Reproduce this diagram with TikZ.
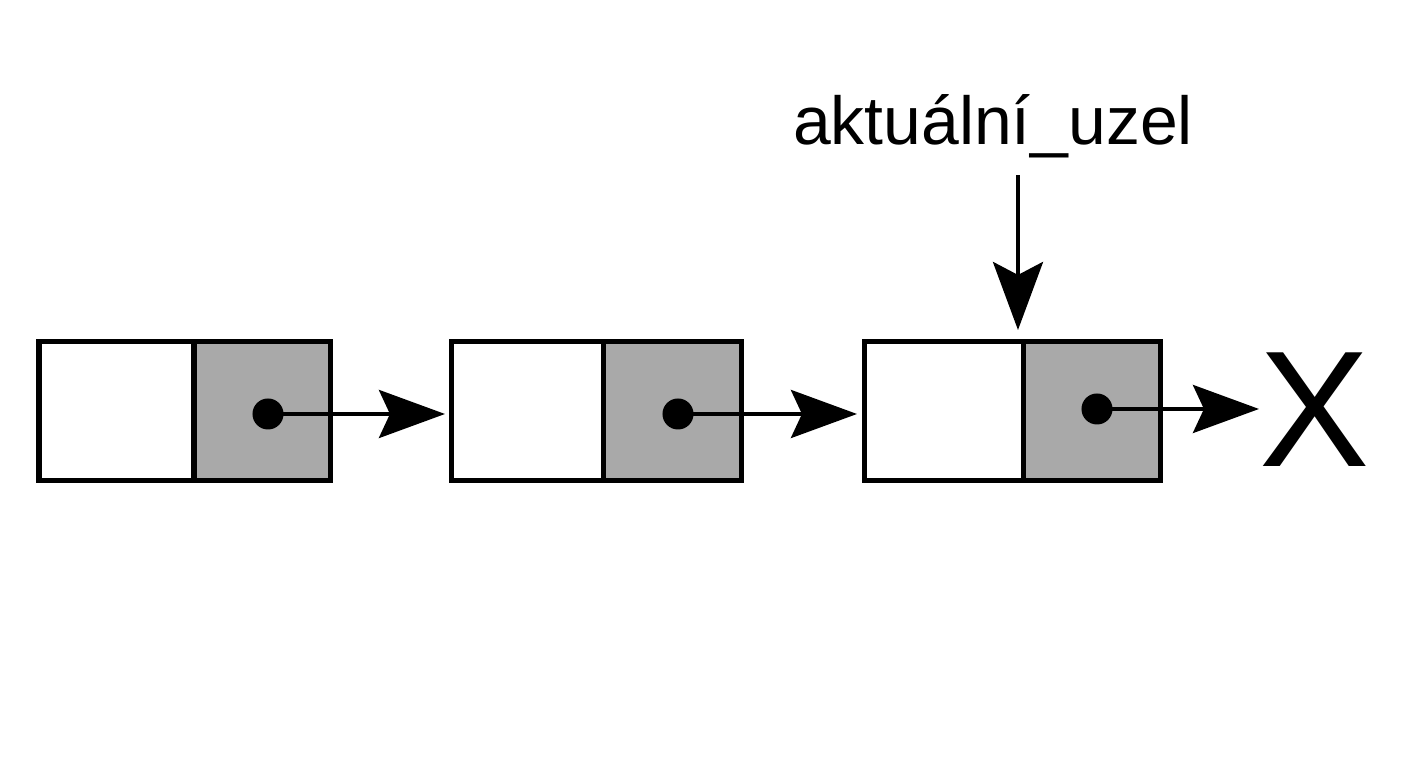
\documentclass[tikz,border=0pt]{standalone}
\usepackage{fontspec}
\setmainfont{Liberation Sans}
\usetikzlibrary{arrows.meta}
\definecolor{cellgray}{HTML}{A9A9A9}
\begin{document}
\begin{tikzpicture}[x=0.01cm,y=-0.01cm,
  cell/.style={draw, line width=0.05cm, inner sep=0, outer sep=0, minimum height=1.38cm, anchor=north west},
  datacell/.style={cell, fill=white},
  ptrcell/.style={cell, fill=cellgray},
  dot/.style={circle, fill=black, inner sep=0, outer sep=0, minimum size=0.31cm},
  link/.style={line width=0.04cm, -{Stealth[length=0.66cm, width=0.48cm, inset=0.11cm]}},
  vlink/.style={line width=0.04cm, -{Stealth[length=0.68cm, width=0.50cm, inset=0.13cm]}},
]
\useasboundingbox (0,0) rectangle (1408,768);
\fill[white] (0,0) rectangle (1408,768);

% list nodes
\node[datacell, minimum width=1.55cm] (d1) at (39,342) {};
\node[ptrcell,  minimum width=1.36cm] (p1) at (194,342) {};
\node[datacell, minimum width=1.52cm] (d2) at (451,342) {};
\node[ptrcell,  minimum width=1.38cm] (p2) at (603,342) {};
\node[datacell, minimum width=1.59cm] (d3) at (864,342) {};
\node[ptrcell,  minimum width=1.37cm] (p3) at (1023,342) {};

% pointer dots
\node[dot] (o1) at (268,414) {};
\node[dot] (o2) at (678,414) {};
\node[dot] (o3) at (1097,409) {};

% null marker
\node[anchor=base west, inner sep=0, outer sep=0, font=\fontsize{47pt}{50pt}\selectfont] (X) at (1259,467) {X};

% label
\node[anchor=base, inner sep=0, font=\fontsize{19.3pt}{23pt}\selectfont] (lab) at (993,145) {aktuální\_uzel};

% links
\draw[link, shorten >=0.06cm] (o1.center) -- (o1 -| d2.west);
\draw[link, shorten >=0.07cm] (o2.center) -- (o2 -| d3.west);
\draw[link] (o3.center) -- (o3 -| X.west);

% current-node pointer
\draw[vlink, shorten <=0.16cm, shorten >=0.12cm]
  ([xshift=-0.05cm]lab.south -| p3.north west) -- ([xshift=-0.05cm]p3.north west);
\end{tikzpicture}
\end{document}
